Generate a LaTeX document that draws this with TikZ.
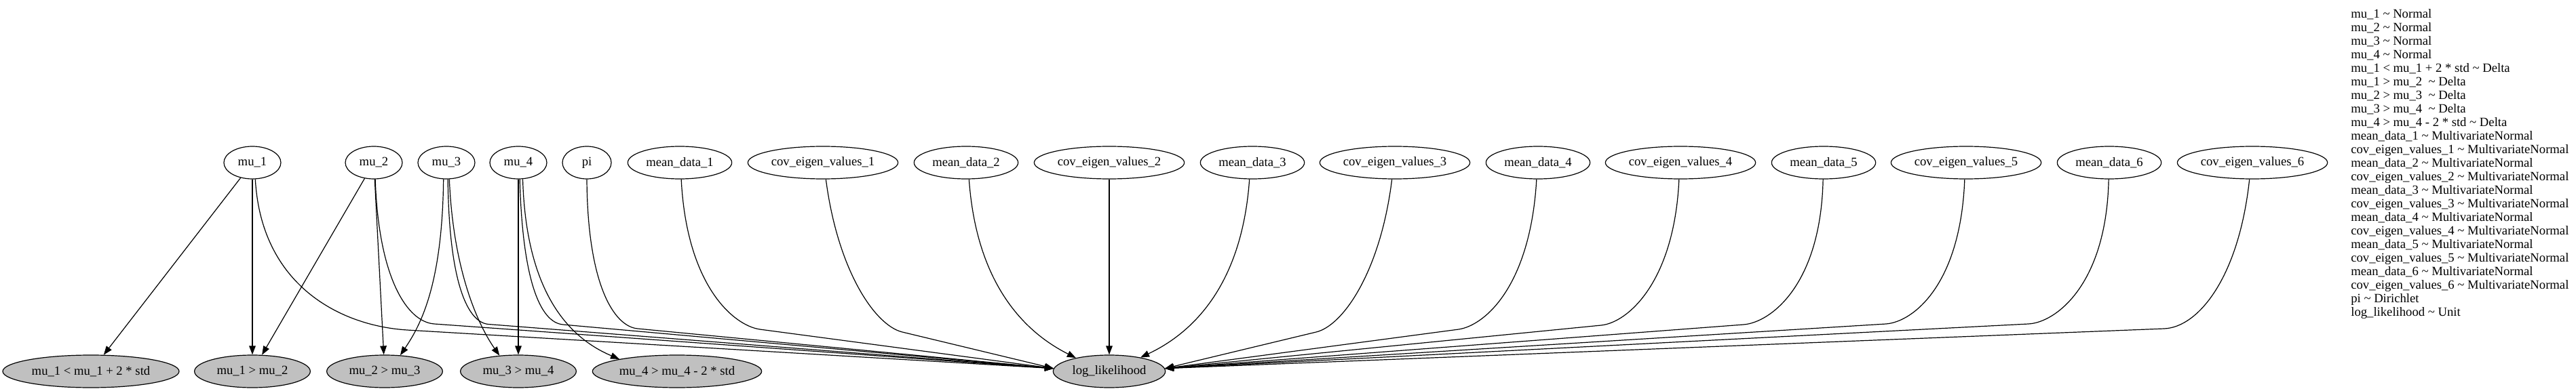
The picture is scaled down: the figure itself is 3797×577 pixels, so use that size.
\documentclass[tikz,border=0pt]{standalone}
\usepackage{fontspec}
\setmainfont{Liberation Serif}
\usetikzlibrary{shapes.geometric,arrows.meta}
\definecolor{gvgray}{RGB}{192,192,192}
\newcommand\gvfont{\fontsize{14}{15}\selectfont}
\begin{document}
\begin{tikzpicture}[x=0.75pt,y=-0.75pt,
  gnode/.style={draw, ellipse, line width=0.9pt, inner sep=0pt, minimum height=36pt, font=\gvfont},
  cnode/.style={gnode, fill=gvgray},
  gedge/.style={draw, line width=0.9pt, -{Triangle[length=9.75pt,width=7.2pt]}}]
\useasboundingbox (0,0) rectangle (3797,577);
% top row
\node[gnode, minimum width=63pt] (mu1) at (372,240) {mu\_1};
\node[gnode, minimum width=63pt] (mu2) at (551,240) {mu\_2};
\node[gnode, minimum width=63pt] (mu3) at (658,240) {mu\_3};
\node[gnode, minimum width=63pt] (mu4) at (764,240) {mu\_4};
\node[gnode, minimum width=54pt] (pi) at (865,240) {pi};
\node[gnode, minimum width=115pt] (md1) at (1002,240) {mean\_data\_1};
\node[gnode, minimum width=166pt] (cv1) at (1213,240) {cov\_eigen\_values\_1};
\node[gnode, minimum width=115pt] (md2) at (1424,240) {mean\_data\_2};
\node[gnode, minimum width=166pt] (cv2) at (1635,240) {cov\_eigen\_values\_2};
\node[gnode, minimum width=115pt] (md3) at (1846,240) {mean\_data\_3};
\node[gnode, minimum width=166pt] (cv3) at (2056,240) {cov\_eigen\_values\_3};
\node[gnode, minimum width=115pt] (md4) at (2267,240) {mean\_data\_4};
\node[gnode, minimum width=166pt] (cv4) at (2477,240) {cov\_eigen\_values\_4};
\node[gnode, minimum width=115pt] (md5) at (2688,240) {mean\_data\_5};
\node[gnode, minimum width=166pt] (cv5) at (2898,240) {cov\_eigen\_values\_5};
\node[gnode, minimum width=115pt] (md6) at (3109,240) {mean\_data\_6};
\node[gnode, minimum width=166pt] (cv6) at (3320,240) {cov\_eigen\_values\_6};
% bottom row
\node[cnode, minimum width=195pt] (c1) at (134,548) {mu\_1 < mu\_1 + 2 * std};
\node[cnode, minimum width=128pt] (c2) at (372,548) {mu\_1 > mu\_2};
\node[cnode, minimum width=128pt] (c3) at (567,548) {mu\_2 > mu\_3};
\node[cnode, minimum width=128pt] (c4) at (764,548) {mu\_3 > mu\_4};
\node[cnode, minimum width=187pt] (c5) at (998,548) {mu\_4 > mu\_4 - 2 * std};
\node[cnode, minimum width=124pt] (LL) at (1635,548) {log\_likelihood};
% legend
\node[anchor=north west, inner sep=0pt, align=left, font=\gvfont] (legend) at (3465,13.5) {%
mu\_1 \textasciitilde{} Normal\\
mu\_2 \textasciitilde{} Normal\\
mu\_3 \textasciitilde{} Normal\\
mu\_4 \textasciitilde{} Normal\\
mu\_1 < mu\_1 + 2 * std \textasciitilde{} Delta\\
mu\_1 > mu\_2\ \ \textasciitilde{} Delta\\
mu\_2 > mu\_3\ \ \textasciitilde{} Delta\\
mu\_3 > mu\_4\ \ \textasciitilde{} Delta\\
mu\_4 > mu\_4 - 2 * std \textasciitilde{} Delta\\
mean\_data\_1 \textasciitilde{} MultivariateNormal\\
cov\_eigen\_values\_1 \textasciitilde{} MultivariateNormal\\
mean\_data\_2 \textasciitilde{} MultivariateNormal\\
cov\_eigen\_values\_2 \textasciitilde{} MultivariateNormal\\
mean\_data\_3 \textasciitilde{} MultivariateNormal\\
cov\_eigen\_values\_3 \textasciitilde{} MultivariateNormal\\
mean\_data\_4 \textasciitilde{} MultivariateNormal\\
cov\_eigen\_values\_4 \textasciitilde{} MultivariateNormal\\
mean\_data\_5 \textasciitilde{} MultivariateNormal\\
cov\_eigen\_values\_5 \textasciitilde{} MultivariateNormal\\
mean\_data\_6 \textasciitilde{} MultivariateNormal\\
cov\_eigen\_values\_6 \textasciitilde{} MultivariateNormal\\
pi \textasciitilde{} Dirichlet\\
log\_likelihood \textasciitilde{} Unit};
% constraint edges
\path[gedge] (mu1) -- (c1);
\path[gedge] (mu1) -- (c2);
\path[gedge] (mu2) -- (c2);
\path[gedge] (mu2) -- (c3);
\path[gedge] (mu3.-100) .. controls (652,420) and (620,480) .. (c3.46);
\path[gedge] (mu3.-80) .. controls (668,400) and (705,480) .. (c4.140);
\path[gedge] (mu4) -- (c4);
\path[gedge] (mu4.-75) .. controls (775,420) and (830,495) .. (c5.168);
% edges into log_likelihood from the left
\path[gedge] (mu1.-80) .. controls (385,420) and (500,480.6) .. (600,487) -- (LL.177);
\path[gedge] (mu2.-85) .. controls (558,410) and (600,475) .. (640,478) -- (LL.177);
\path[gedge] (mu3.-85) .. controls (662,420) and (690,476) .. (720,478.5) -- (LL.177);
\path[gedge] (mu4.-85) .. controls (770,410) and (795,476) .. (830,479) -- (LL.177);
\path[gedge] (pi.-90) .. controls (866,420) and (905,482) .. (940,485) -- (LL.177);
\path[gedge] (md1.-85) .. controls (1012,420) and (1080,480) .. (1120,486) -- (LL.177);
\path[gedge] (cv1.-80) .. controls (1235,400) and (1290,480.4) .. (1330,490) -- (LL.177);
\path[gedge] (md2.-80) .. controls (1440,430) and (1520,495) .. (LL.158);
\path[gedge] (cv2) -- (LL);
% edges into log_likelihood from the right
\path[gedge] (md3.-100) .. controls (1830,430) and (1750,495) .. (LL.24);
\path[gedge] (cv3.-100) .. controls (2035,400) and (1980,480.4) .. (1940,490) -- (LL.3);
\path[gedge] (md4.-95) .. controls (2256,420) and (2190,480) .. (2150,486) -- (LL.3);
\path[gedge] (cv4.-95) .. controls (2468,415) and (2400,476) .. (2360,480) -- (LL.3);
\path[gedge] (md5.-92) .. controls (2684,420) and (2610,476) .. (2570,479) -- (LL.3);
\path[gedge] (cv5.-95) .. controls (2890,420) and (2820,475) .. (2780,478) -- (LL.3);
\path[gedge] (md6.-92) .. controls (3105,420) and (3030,476) .. (2990,478) -- (LL.3);
\path[gedge] (cv6.-100) .. controls (3300,410) and (3240,483) .. (3190,485) -- (LL.3);
\end{tikzpicture}
\end{document}
